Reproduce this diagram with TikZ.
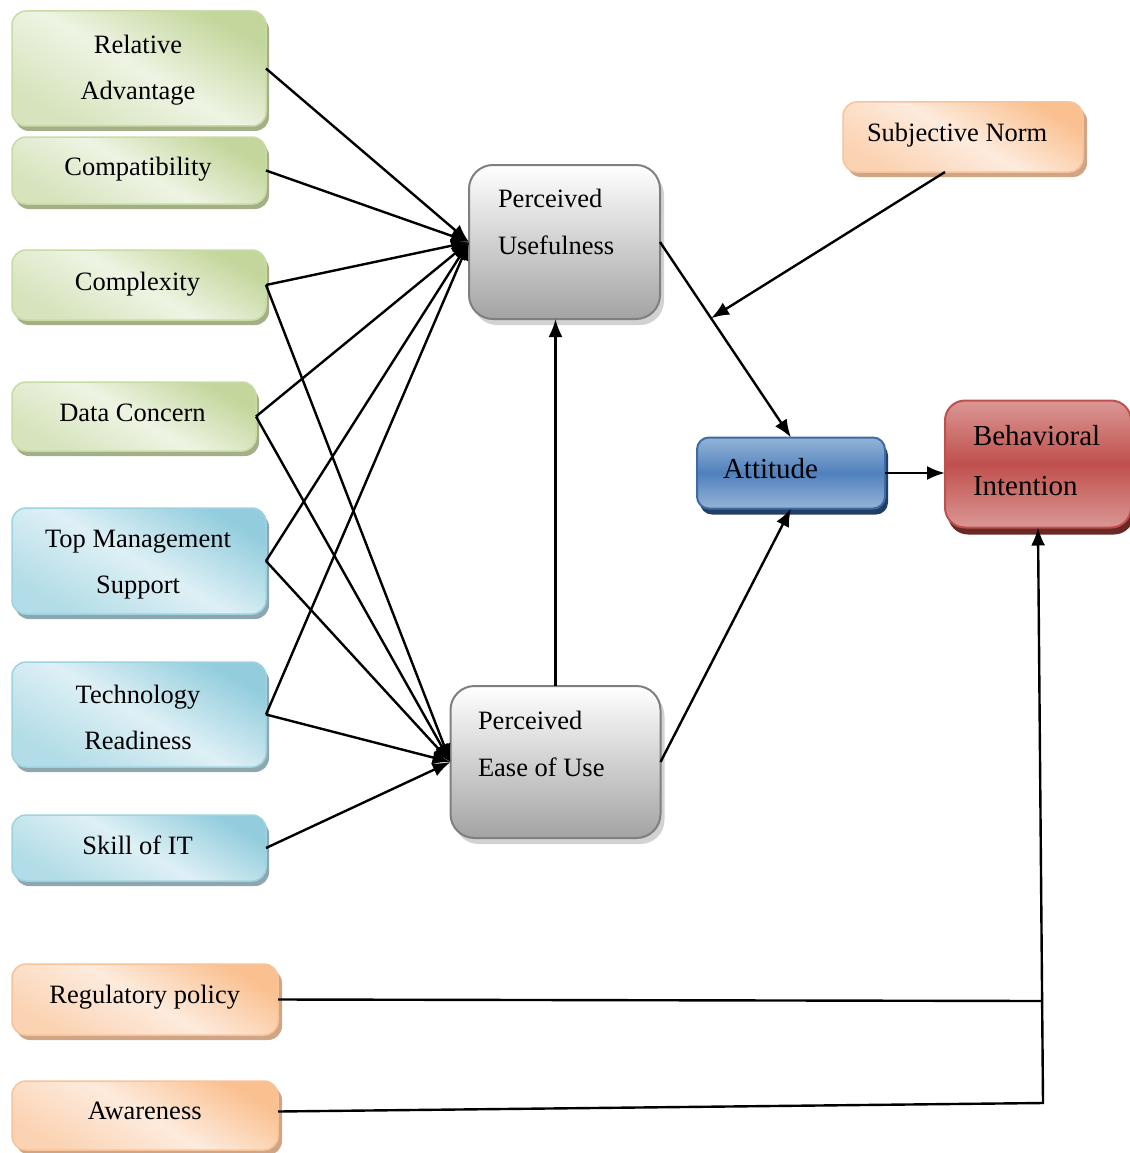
\documentclass[tikz,border=0pt]{standalone}
\usepackage{fontspec}
\setmainfont{Liberation Serif}
\usetikzlibrary{arrows.meta,shadows,calc}

% palette
\definecolor{grnD}{HTML}{C3D69B}
\definecolor{grnL}{HTML}{EEF4E3}
\definecolor{grnM}{HTML}{D6E3BC}
\definecolor{grnB}{HTML}{C9DBA5}
\definecolor{grnS}{HTML}{A3B087}
\definecolor{bluD}{HTML}{93CDDD}
\definecolor{bluL}{HTML}{DEF0F5}
\definecolor{bluM}{HTML}{B2DCE7}
\definecolor{bluB}{HTML}{9DD2E0}
\definecolor{bluS}{HTML}{8EA6AD}
\definecolor{orgD}{HTML}{FAC090}
\definecolor{orgL}{HTML}{FDEBDD}
\definecolor{orgM}{HTML}{FBD3B3}
\definecolor{orgB}{HTML}{F9C39A}
\definecolor{orgS}{HTML}{D0A585}
\definecolor{gryB}{HTML}{7F7F7F}
\definecolor{gryD}{HTML}{A3A3A3}
\definecolor{gryS}{HTML}{D2D2D2}
\definecolor{attL}{HTML}{95B3D7}
\definecolor{attM}{HTML}{4F81BD}
\definecolor{attB}{HTML}{3C6BA6}
\definecolor{attS}{HTML}{223E62}
\definecolor{biL}{HTML}{DA9795}
\definecolor{biM}{HTML}{C0504D}
\definecolor{biB}{HTML}{C0504D}
\definecolor{biS}{HTML}{6A2826}

\tikzset{
  box/.style={rounded corners=14pt, inner sep=0pt, outer sep=0pt, line width=1.5pt},
  greenbox/.style={box, draw=grnB, top color=grnD, bottom color=grnM, middle color=grnL,
    shading angle=-30,
    drop shadow={shadow xshift=3pt, shadow yshift=-5pt, fill=grnS, opacity=1}},
  bluebox/.style={box, draw=bluB, top color=bluD, bottom color=bluM, middle color=bluL,
    shading angle=-30,
    drop shadow={shadow xshift=3pt, shadow yshift=-5pt, fill=bluS, opacity=1}},
  orangebox/.style={box, draw=orgB, top color=orgD, bottom color=orgM, middle color=orgL,
    shading angle=-30,
    drop shadow={shadow xshift=4pt, shadow yshift=-5pt, fill=orgS, opacity=1}},
  greybox/.style={box, rounded corners=24pt, draw=gryB, line width=2pt,
    top color=white, bottom color=gryD,
    drop shadow={shadow xshift=4pt, shadow yshift=-6pt, fill=gryS, opacity=1}},
  attbox/.style={box, rounded corners=12pt, draw=attB, line width=2pt,
    top color=attL, bottom color=attL, middle color=attM,
    drop shadow={shadow xshift=3pt, shadow yshift=-6pt, fill=attS, opacity=1}},
  bibox/.style={box, rounded corners=20pt, draw=biB, line width=2pt,
    top color=biL, bottom color=biL, middle color=biM,
    drop shadow={shadow xshift=3pt, shadow yshift=-7pt, fill=biS, opacity=1}},
  lbl/.style={inner sep=0pt, outer sep=0pt, font=\fontsize{26.5}{46}\selectfont,
    align=center, anchor=north},
  lblw/.style={lbl, align=left, anchor=north west},
  conn/.style={line width=2.4pt, -{Latex[length=18pt,width=14pt]}},
  plain/.style={line width=2.4pt},
}

\begin{document}
\begin{tikzpicture}[x=1pt, y=-1pt]
\useasboundingbox (0,0) rectangle (1129,1153);

% ---- determinant boxes (left column) ----
\node[greenbox, minimum width=254pt, minimum height=115pt] (ra)   at (139,68.5)   {};
\node[greenbox, minimum width=254pt, minimum height=67pt]  (comp) at (139,170.5)  {};
\node[greenbox, minimum width=254pt, minimum height=70pt]  (cplx) at (139,285)    {};
\node[greenbox, minimum width=244pt, minimum height=69pt]  (data) at (134,416.5)  {};
\node[bluebox,  minimum width=254pt, minimum height=106pt] (tms)  at (139,561)    {};
\node[bluebox,  minimum width=254pt, minimum height=105pt] (tr)   at (139,714.5)  {};
\node[bluebox,  minimum width=254pt, minimum height=66pt]  (sk)   at (139,848)    {};
\node[orangebox,minimum width=266pt, minimum height=71pt]  (reg)  at (145,999.5)  {};
\node[orangebox,minimum width=266pt, minimum height=69pt]  (aw)   at (145,1115.5) {};
\node[orangebox,minimum width=240pt, minimum height=70pt]  (sn)   at (963,137)    {};

% ---- core constructs ----
\node[greybox, minimum width=191pt, minimum height=154pt] (pu)   at (564.5,242)  {};
\node[greybox, minimum width=210pt, minimum height=152pt] (peou) at (555.5,762)  {};
\node[attbox,  minimum width=188pt, minimum height=71pt]  (att)  at (791,473)    {};
\node[bibox,   minimum width=186pt, minimum height=127pt] (bi)   at (1038,464)   {};

% ---- labels ----
\node[lbl] (ra-t)   at (138,35)    {Relative\\Advantage};
\node[lbl] (comp-t) at (138,157)   {Compatibility};
\node[lbl] (cplx-t) at (137.5,272) {Complexity};
\node[lbl] (data-t) at (132.5,404) {Data Concern};
\node[lbl] (tms-t)  at (138,530)   {Top Management\\Support};
\node[lbl] (tr-t)   at (138,685)   {Technology\\Readiness};
\node[lbl] (sk-t)   at (137.7,836) {Skill of IT};
\node[lbl] (reg-t)  at (144.7,985) {Regulatory policy};
\node[lbl] (aw-t)   at (144.7,1102){Awareness};
\node[lblw] (sn-t)  at (867,123)   {Subjective Norm};
\node[lblw, font=\fontsize{26.5}{47}\selectfont] (pu-t)   at (498,189) {Perceived\\Usefulness};
\node[lblw, font=\fontsize{26.5}{47}\selectfont] (peou-t) at (478,711) {Perceived\\Ease of Use};
\node[lblw, font=\fontsize{29}{50}\selectfont]   (att-t)  at (723,458) {Attitude};
\node[lblw, font=\fontsize{29}{50}\selectfont]   (bi-t)   at (973,425) {Behavioral\\Intention};

% ---- paths into Perceived Usefulness ----
\foreach \src in {ra,comp,cplx,data,tms,tr}
  \draw[conn] (\src.east) -- (pu.west);

% ---- paths into Perceived Ease of Use ----
\foreach \src in {cplx,data,tms,tr,sk}
  \draw[conn] (\src.east) -- (peou.west);

% ---- TAM core ----
\draw[conn] (peou.north) -- (peou.north |- pu.south);
\draw[conn] (pu.east) -- (att.north);
\draw[conn] (peou.east) -- (att.south);
\draw[conn] (att.east) -- (att.east -| bi.west);

% subjective norm acts on the PU -> attitude path
\coordinate (snfoot) at ($(sn.south west)!0.425!(sn.south east)$);
\coordinate (snhit) at ($(pu.east)!0.39!(att.north)$);
\draw[conn] (snfoot) -- (snhit);

% external factors routed to behavioural intention
\coordinate (corner) at (1043,1103);
\coordinate (join) at (1042,1001);
\draw[plain] (reg.east) -- (join);
\draw[conn] ([yshift=4pt]aw.east) -- (corner) -- (bi.south);
\end{tikzpicture}
\end{document}
